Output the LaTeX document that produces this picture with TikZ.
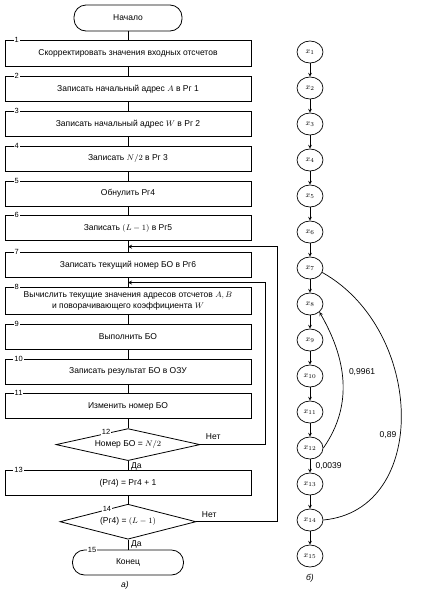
\documentclass[tikz,border=0pt]{standalone}
\usepackage{fontspec}
\setmainfont{Liberation Sans}
\usepackage{tikz}
\usetikzlibrary{shapes,arrows,positioning,calc}

\begin{document}
\begin{tikzpicture}[
    x=1pt, y=1pt,
    node distance=9pt,
    font=\fontsize{8.5}{10.5}\selectfont,
    termbox/.style={draw, line width=0.8pt, rounded corners=12pt, minimum width=108pt, minimum height=26pt},
    stepbox/.style={draw, line width=0.8pt, minimum width=246pt, minimum height=25pt, align=center},
    testbox/.style={draw, diamond, line width=0.8pt, inner sep=0pt, aspect=4.5, minimum width=144pt, minimum height=32pt},
    numlabel/.style={fill=white, inner sep=1pt, font=\fontsize{7.5}{8}\selectfont},
    state/.style={draw, ellipse, line width=0.7pt, minimum width=26pt, minimum height=22pt, inner sep=0pt, font=\footnotesize},
    flowline/.style={line width=0.8pt},
    backline/.style={->, line width=0.8pt, >=stealth},
    myedge/.style={->, line width=0.7pt, >=stealth}
]
\useasboundingbox (0,0) rectangle (422,-592);

% flow chart (a)
\node[termbox] (start) at (128,-18) {Начало};
\node[stepbox, minimum height=26pt] (b1) [below=of start] {Скорректировать значения входных отсчетов};
\node[stepbox] (b2) [below=of b1] {Записать начальный адрес $A$ в Рг 1};
\node[stepbox] (b3) [below=of b2] {Записать начальный адрес $W$ в Рг 2};
\node[stepbox] (b4) [below=of b3] {Записать $N/2$ в Рг 3};
\node[stepbox] (b5) [below=of b4] {Обнулить Рг4};
\node[stepbox] (b6) [below=of b5] {Записать $(L-1)$ в Рг5};
\node[stepbox] (b7) [below=11pt of b6] {Записать текущий номер БО в Рг6};
\node[stepbox, minimum height=27pt] (b8) [below=of b7] {Вычислить текущие значения адресов отсчетов $A, B$\\ и поворачивающего коэффициента $W$};
\node[stepbox] (b9) [below=of b8] {Выполнить БО};
\node[stepbox] (b10) [below=of b9] {Записать результат БО в ОЗУ};
\node[stepbox] (b11) [below=of b10] {Изменить номер БО};
\node[testbox] (d12) [below=of b11] {Номер БО = $N/2$};
\node[stepbox] (b13) [below=of d12] {(Рг4) = Рг4 + 1};
\node[testbox, aspect=3.9, minimum width=136pt, minimum height=35pt] (d14) [below=8pt of b13] {(Рг4) = $(L-1)$};
\node[termbox, minimum width=111pt, minimum height=25pt] (fin) [below=10pt of d14] {Конец};

% step numbers
\node[numlabel] (n1) at ([xshift=12pt]b1.north west) {1};
\node[numlabel] (n2) at ([xshift=12pt]b2.north west) {2};
\node[numlabel] (n3) at ([xshift=12pt]b3.north west) {3};
\node[numlabel] (n4) at ([xshift=12pt]b4.north west) {4};
\node[numlabel] (n5) at ([xshift=12pt]b5.north west) {5};
\node[numlabel] (n6) at ([xshift=12pt]b6.north west) {6};
\node[numlabel] (n7) at ([xshift=12pt]b7.north west) {7};
\node[numlabel] (n8) at ([xshift=12pt]b8.north west) {8};
\node[numlabel] (n9) at ([xshift=12pt]b9.north west) {9};
\node[numlabel] (n10) at ([xshift=14pt]b10.north west) {10};
\node[numlabel] (n11) at ([xshift=14pt]b11.north west) {11};
\node[numlabel] (n12) at ([xshift=-22pt,yshift=-4pt]d12.north) {12};
\node[numlabel] (n13) at ([xshift=14pt]b13.north west) {13};
\node[numlabel] (n14) at ([xshift=-21pt,yshift=-5pt]d14.north) {14};
\node[numlabel] (n15) at ([xshift=20pt]fin.north west) {15};

\foreach \a/\b in {start/b1, b1/b2, b2/b3, b3/b4, b4/b5, b5/b6, b6/b7, b7/b8,
    b8/b9, b9/b10, b10/b11, b11/d12, d12/b13, b13/d14, d14/fin}
    \draw[flowline] (\a) -- (\b);

% return paths
\coordinate (in7) at ($(b6.south)!.5!(b7.north)$);
\coordinate (in8) at ($(b7.south)!.5!(b8.north)$);
\draw[backline] (d12.east) -- ++(65,0) |- (in8);
\draw[backline] (d14.east) -- ++(81,0) |- (in7);

\node[anchor=south west] (no12) at ([xshift=2pt,yshift=1pt]d12.east) {Нет};
\node[anchor=south west] (no14) at ([xshift=2pt,yshift=1pt]d14.east) {Нет};
\node[anchor=north west, inner sep=1pt] (yes12) at ([xshift=2pt]d12.south) {Да};
\node[anchor=north west, inner sep=1pt] (yes14) at ([xshift=2pt]d14.south) {Да};
\node (capa) at (125,-585) {\textit{а)}};

% state graph (b)
\node[state] (x1) at (310,-52) {$x_{1}$};
\node[state] (x2) [below=13.3pt of x1] {$x_{2}$};
\node[state] (x3) [below=13.3pt of x2] {$x_{3}$};
\node[state] (x4) [below=13.3pt of x3] {$x_{4}$};
\node[state] (x5) [below=13.3pt of x4] {$x_{5}$};
\node[state] (x6) [below=13.3pt of x5] {$x_{6}$};
\node[state] (x7) [below=13.3pt of x6] {$x_{7}$};
\node[state] (x8) [below=13.3pt of x7] {$x_{8}$};
\node[state] (x9) [below=13.3pt of x8] {$x_{9}$};
\node[state] (x10) [below=13.3pt of x9] {$x_{10}$};
\node[state] (x11) [below=13.3pt of x10] {$x_{11}$};
\node[state] (x12) [below=13.3pt of x11] {$x_{12}$};
\node[state] (x13) [below=13.3pt of x12] {$x_{13}$};
\node[state] (x14) [below=13.3pt of x13] {$x_{14}$};
\node[state] (x15) [below=13.3pt of x14] {$x_{15}$};

\foreach \a/\b in {x1/x2, x2/x3, x3/x4, x4/x5, x5/x6, x6/x7, x7/x8, x8/x9,
    x9/x10, x10/x11, x11/x12, x12/x13, x13/x14, x14/x15}
    \draw[myedge] (\a) -- (\b);

\draw[myedge] (x12.east) to[out=55,in=-60] (x8.south east);
\draw[line width=0.7pt] (x14.east) .. controls (430,-510) and (425,-330) .. (x7.-20);

\node (p9961) at (362,-372) {0,9961};
\node[anchor=west] (p0039) at ([xshift=2pt]$(x12.south)!.5!(x13.north)$) {0,0039};
\node (p89) at (388,-435) {0,89};
\node (capb) at (310,-578) {\textit{б)}};
\end{tikzpicture}
\end{document}
